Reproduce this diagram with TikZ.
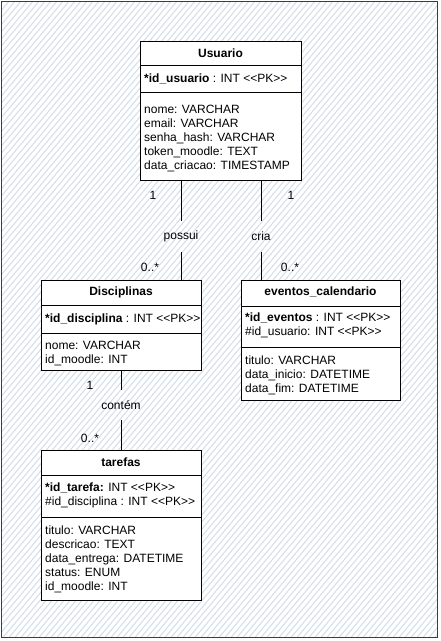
\documentclass[tikz,border=0pt]{standalone}
\usepackage{fontspec}
\setmainfont{Liberation Sans}
\definecolor{hatchblue}{HTML}{D2DDE8}
\definecolor{framblue}{HTML}{23445D}
\newcommand{\pkmark}{<\kern0pt<PK>\kern0pt>}
\begin{document}
\begin{tikzpicture}[x=1pt, y=-1pt, font=\fontsize{12}{14}\selectfont]
\tikzstyle{tbl}=[draw, fill=white, line width=1pt, inner sep=0pt]
\tikzstyle{ttl}=[font=\fontsize{12}{14}\selectfont\bfseries, inner sep=0pt]
\tikzstyle{attr}=[anchor=west, align=left, inner sep=0pt]
\tikzstyle{lbl}=[inner sep=0pt]
\tikzstyle{rel}=[inner sep=0pt, minimum height=31pt]
\useasboundingbox (0,0) rectangle (441,641);

% background
\begin{scope}
\clip (1,1) rectangle (437,637);
\foreach \a in {-540,-534,...,440}
  \draw[hatchblue, line width=1pt] (\a,641) -- ++(538,-641);
\end{scope}
\draw[framblue, line width=0.8pt] (1,1) rectangle (437,637);

% tables
\node[tbl, minimum width=161pt, minimum height=139pt] (usuario) at (220.5,110.5) {};
\draw[line width=1pt] (140,65) -- (301,65);
\draw[line width=1pt] (140,92) -- (301,92);
\node[ttl] (usuarioT) at (220.5,53) {Usuario};
\node[attr] (usuarioK) at (144,79) {\textbf{*id\_usuario} : INT \pkmark};
\node[attr] (usuarioA) at (144,138) {nome: VARCHAR\\email: VARCHAR\\senha\_hash: VARCHAR\\token\_moodle: TEXT\\data\_criacao: TIMESTAMP};

\node[tbl, minimum width=160pt, minimum height=90pt] (disc) at (121,325) {};
\draw[line width=1pt] (41,305) -- (201,305);
\draw[line width=1pt] (41,333) -- (201,333);
\node[ttl] (discT) at (121,292) {Disciplinas};
\node[attr] (discK) at (45,319) {\textbf{*id\_disciplina} : INT \pkmark};
\node[attr] (discA) at (45,353.5) {nome: VARCHAR\\id\_moodle: INT};

\node[tbl, minimum width=159pt, minimum height=120pt] (evt) at (320.5,340) {};
\draw[line width=1pt] (241,306) -- (400,306);
\draw[line width=1pt] (241,347) -- (400,347);
\node[ttl] (evtT) at (320.5,292) {eventos\_calendario};
\node[attr] (evtK) at (245,325.5) {\textbf{*id\_eventos} : INT \pkmark\\\#id\_usuario: INT \pkmark};
\node[attr] (evtA) at (245,375) {titulo: VARCHAR\\data\_inicio: DATETIME\\data\_fim: DATETIME};

\node[tbl, minimum width=160pt, minimum height=150pt] (tar) at (121,525) {};
\draw[line width=1pt] (41,475) -- (201,475);
\draw[line width=1pt] (41,517) -- (201,517);
\node[ttl] (tarT) at (121,462) {tarefas};
\node[attr] (tarK) at (45,495) {\textbf{*id\_tarefa:} INT \pkmark\\\#id\_disciplina : INT \pkmark};
\node[attr] (tarA) at (45,559) {titulo: VARCHAR\\descricao: TEXT\\data\_entrega: DATETIME\\status: ENUM\\id\_moodle: INT};

% relations
\node[rel] (possui) at (181,236.5) {possui};
\node[rel] (cria) at (261,236.5) {cria};
\node[rel, minimum height=30pt] (contem) at (121,405) {contém};

\draw[line width=1pt] (possui |- usuario.south) -- (possui.north);
\draw[line width=1pt] (possui.south) -- (possui |- disc.north);
\draw[line width=1pt] (cria |- usuario.south) -- (cria.north);
\draw[line width=1pt] (cria.south) -- (cria |- evt.north);
\draw[line width=1pt] (disc.south) -- (contem.north);
\draw[line width=1pt] (contem.south) -- (tar.north);

\node[lbl] (m1) at (153,195) {1};
\node[lbl] (m2) at (291,195) {1};
\node[lbl] (m3) at (150,267) {0..*};
\node[lbl] (m4) at (290,267) {0..*};
\node[lbl] (m5) at (90,385) {1};
\node[lbl] (m6) at (90,438) {0..*};
\end{tikzpicture}
\end{document}
